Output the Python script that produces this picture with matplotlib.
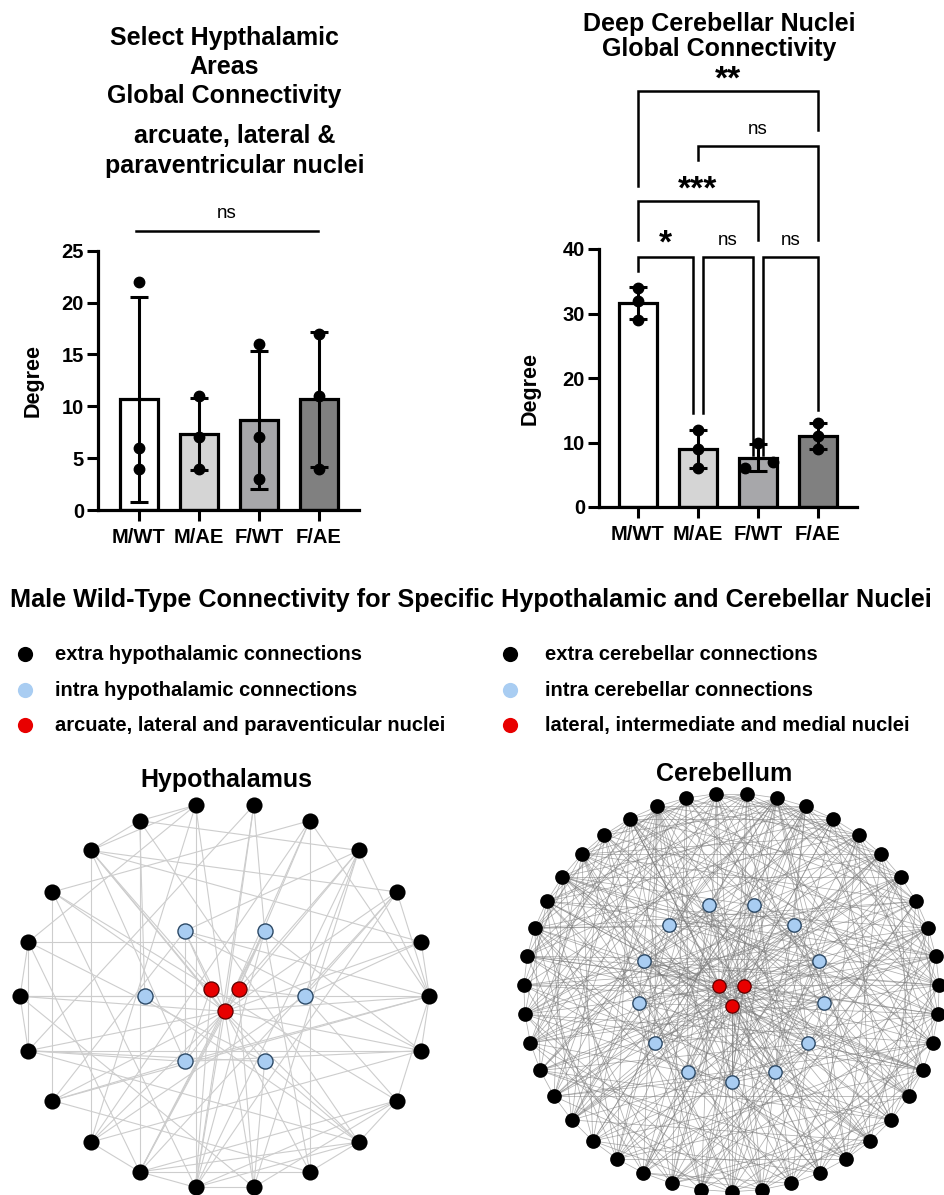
import numpy as np
import matplotlib
matplotlib.use('Agg')
import matplotlib.pyplot as plt
from matplotlib.collections import LineCollection
from matplotlib import transforms

plt.rcParams['font.family'] = ['Liberation Sans', 'DejaVu Sans']

# ---------------- data ----------------
groups = ["M/WT", "M/AE", "F/WT", "F/AE"]
hyp_points = [[22, 6, 4], [11, 7, 4], [16, 7, 3], [17, 11, 4]]
dcn_points = [[34, 32, 29], [12, 9, 6], [10, 6, 7], [13, 11, 9]]
dcn_jitter = [[0, 0, 0], [0, 0, 0], [0, -0.22, 0.25], [0, 0, 0]]
bar_colors = ['white', '#d5d5d5', '#a7a7aa', '#808080']
hyp_ticks = [0, 5, 10, 15, 20, 25]
dcn_ticks = [0, 10, 20, 30, 40]

# significance brackets: label, x_left, x_right, y_bar, y_leg_left, y_leg_right, label_y
dcn_sig = [
    ("*", 0, 0.92, 38.8, 36.6, 14.6, 41.7),
    ("ns", 1.08, 1.92, 38.8, 14.6, 8.0, 40.6),
    ("ns", 2.08, 3.0, 38.8, 8.0, 15.1, 40.6),
    ("***", 0, 2.0, 47.4, 41.4, 41.4, 50.1),
    ("ns", 1.0, 3.0, 55.9, 53.8, 41.4, 57.8),
    ("**", 0, 3.0, 64.5, 49.8, 58.4, 67.1),
]
hyp_sig = ("ns", -0.05, 2.98, 26.9, 28.2)

# network: hypothalamus (outer 0-21, intra 22-27, target nuclei 28-30)
HYP_N = (22, 6, 3)
HYP_EDGES = """
0: 1 2 3 4 13 20 21
1: 8 10
2: 8 15 16
3: 7 16 17
4: 9 14 18
5: 16 12
6: 7 8 10 14 16
7: 8 15 19
8: 14
9: 13 16 20
10: 11 12 15
11: 12 17
12: 19 21
13: 18
14: 15 21
15: 16 18 19 20
16: 17 19 20
17: 20
18: 19
19: 20
22: 1 2 3 11 14 20
23: 16 18 5 15 21
24: 3 0 21 26 13
25: 0 11 7 19
26: 12 13 21 0 8
27: 12 8 19 17 10
28: 3 4 15 17 22 23
29: 24 26 8 16
30: 0 1 2 3 4 5 6 8 9 11 12 13 14 15 16 17 18 19 21 23 24 26
"""

# network: cerebellum (outer 0-42, intra 43-55, target nuclei 56-58)
CB_N = (43, 13, 3)
CB_EDGES = """
0: 1 5 9 14 17 20 24 27 33 38 42
1: 2 6 9 12 19 24 27 30 36 40
2: 3 8 11 15 21 26 30 34 40
3: 4 10 13 17 22 25 29 35 38
4: 5 8 11 16 20 25 28 32 35 39
5: 6 13 17 20 24 28 31 37 41
6: 7 10 14 18 22 25 28 32 35 41
7: 8 12 15 20 23 26 29 36 39
8: 9 16 19 21 24 30 33 38 42
9: 10 13 17 22 25 27 33 36 39
10: 11 14 18 20 24 28 31 37 41
11: 12 16 19 23 25 28 31 34 40
12: 13 17 20 24 29 32 35 41
13: 14 18 21 26 29 32 35 38 41
14: 15 19 20 24 27 30 33 36 42
15: 16 20 22 25 28 33 36 39 42
16: 17 21 23 27 30 34 37 40
17: 18 22 24 27 29 33 36 41
18: 19 22 25 28 31 34 37 40
19: 20 24 26 29 32 35 38 42
20: 21 27 29 31 33 35 37 39 41
21: 22 25 28 31 34 37 40
22: 23 26 30 33 36 39 42
23: 24 27 31 34 37 41
24: 25 30 32 34 36 38 40
25: 26 29 33 36 39 42
26: 27 30 34 37 41
27: 28 31 35 38 42
28: 29 32 36 39
29: 30 33 37 40
30: 31 35 38 41
31: 32 39
32: 33 40
33: 34 41
34: 35 42
35: 36
36: 37
37: 38
38: 39
39: 40
40: 41
41: 42
43: 45 49 3 9 15 27 33 38 21
44: 47 52 5 12 18 24 30 36 41
45: 48 2 8 14 21 29 35 40 25
46: 50 54 1 7 13 20 26 32 39
47: 51 4 10 17 23 31 37 42 28
48: 53 0 6 11 19 25 34 30
49: 52 3 9 16 22 28 36 12
50: 54 2 12 18 20 27 33 41
51: 1 7 14 24 30 39 20
52: 5 11 17 20 26 35 42 8
53: 0 8 15 22 29 37 24
54: 4 10 16 24 31 38 19
55: 6 13 19 23 28 34 40 2
56: 1 3 5 7 10 12 14 16 18 20 21 23 26 28 31 33 35 37 39 42 43 44 45 46 47 48 50 52 54 55 57 58
57: 0 2 4 6 8 9 11 13 15 17 19 20 22 24 25 27 29 30 32 34 36 38 40 41 43 44 46 48 49 51 53 55 58
58: 0 1 3 5 8 10 12 13 16 19 22 25 28 31 34 37 40 42 43 44 45 47 49 50 51 52 53
"""

legend_left = ["extra hypothalamic connections", "intra hypothalamic connections",
               "arcuate, lateral and paraventicular nuclei"]
legend_right = ["extra cerebellar connections", "intra cerebellar connections",
                "lateral, intermediate and medial nuclei"]

# ---------------- figure ----------------
W, H = 944, 1195
fig = plt.figure(figsize=(W / 100, H / 100), dpi=100)


def px_axes(x0, y0, x1, y1, **kw):
    return fig.add_axes([x0 / W, 1 - y1 / H, (x1 - x0) / W, (y1 - y0) / H], **kw)


BLUE = '#a9cdf2'
RED = '#e80000'


def bar_panel(ax, points, jitter, ticks, ymax, xl):
    means = [np.mean(p) for p in points]
    sds = [np.std(p, ddof=1) for p in points]
    x = np.arange(len(points))
    ax.bar(x, means, width=0.63, color=bar_colors, edgecolor='black', linewidth=2.3, zorder=2)
    ax.errorbar(x, means, yerr=sds, fmt='none', ecolor='black', elinewidth=2.2,
                capsize=6.5, capthick=2.2, zorder=3)
    for i, (p, j) in enumerate(zip(points, jitter)):
        ax.plot(i + np.array(j), p, 'o', color='black', ms=7.5, zorder=4, clip_on=False)
    ax.set_xlim(*xl)
    ax.set_ylim(0, ymax)
    ax.set_xticks(x)
    ax.set_xticklabels(groups, fontweight='bold', fontsize=14.5)
    ax.set_yticks(ticks)
    ax.set_yticklabels([str(t) for t in ticks], fontweight='bold', fontsize=14.5)
    for s in ['top', 'right']:
        ax.spines[s].set_visible(False)
    for s in ['left', 'bottom']:
        ax.spines[s].set_linewidth(2.3)
    ax.tick_params(axis='both', direction='out', length=8, width=2.2)
    ax.tick_params(axis='y', pad=2)
    ax.tick_params(axis='x', pad=5)
    ax.set_ylabel("Degree", fontweight='bold', fontsize=15.5)
    ax.patch.set_alpha(0)


# left bar chart
axL = px_axes(98, 250.7, 359, 510)
bar_panel(axL, hyp_points, [[0, 0, 0]] * 4, hyp_ticks, 25, (-0.683, 3.667))
axL.yaxis.set_label_coords(-0.207, 0.5)
lab, xa, xb, yb, yl = hyp_sig
axL.plot([xa, xb], [yb, yb], color='black', lw=1.8, clip_on=False)
axL.text((xa + xb) / 2, yl, lab, ha='center', va='baseline', fontsize=13.5)

# right bar chart
axR = px_axes(599, 249, 857, 507)
bar_panel(axR, dcn_points, dcn_jitter, dcn_ticks, 40, (-0.65, 3.65))
axR.yaxis.set_label_coords(-0.227, 0.46)
star_tr = transforms.offset_copy(axR.transData, fig=fig, y=-10.5, units='points')
for lab, xa, xb, yb, y1, y2, ylab in dcn_sig:
    axR.plot([xa, xa, xb, xb], [y1, yb, yb, y2], color='black', lw=1.8,
             clip_on=False, solid_joinstyle='miter')
    if lab == 'ns':
        axR.text((xa + xb) / 2, ylab, lab, ha='center', va='baseline', fontsize=13.5)
    else:
        axR.text((xa + xb) / 2, ylab, lab, ha='center', va='baseline', fontsize=24,
                 fontweight='bold', transform=star_tr)


# ---------------- networks ----------------
def ring(n, r, start):
    ang = np.deg2rad(start + np.arange(n) * 360.0 / n)
    return np.c_[r * np.cos(ang), r * np.sin(ang)]


def parse_edges(s):
    pairs = []
    for line in s.strip().splitlines():
        a, rest = line.split(':')
        for b in rest.split():
            pairs.append((int(a), int(b)))
    return pairs


def network(cx, cy, rx, ry, counts, edges, r_in, r_red, start, sizes, ecol, elw, ealpha):
    ext = 1.12
    ax = px_axes(cx - ext * rx, cy - ext * ry, cx + ext * rx, cy + ext * ry)
    ax.set_xlim(-ext, ext)
    ax.set_ylim(-ext, ext)
    ax.axis('off')
    n_out, n_in, n_red = counts
    pos = np.vstack([ring(n_out, 1.0, start), ring(n_in, r_in, start), ring(n_red, r_red, 30)])
    segs = [[pos[a], pos[b]] for a, b in parse_edges(edges)]
    ax.add_collection(LineCollection(segs, colors=ecol, linewidths=elw, alpha=ealpha, zorder=1))
    o = pos[:n_out]
    i = pos[n_out:n_out + n_in]
    r = pos[n_out + n_in:]
    ax.scatter(o[:, 0], o[:, 1], s=sizes[0], c='black', zorder=3, clip_on=False, linewidths=0)
    ax.scatter(i[:, 0], i[:, 1], s=sizes[1], c=BLUE, edgecolors='#2c4966', linewidths=1.0,
               zorder=3, clip_on=False)
    ax.scatter(r[:, 0], r[:, 1], s=sizes[1], c=RED, edgecolors='#5a0000', linewidths=0.9,
               zorder=4, clip_on=False)
    return ax


network(224.7, 996.3, 204.7, 193.0, HYP_N, HYP_EDGES, 0.39, 0.078, 0,
        (135, 118), '#cdcdcd', 0.8, 1.0)
network(731.5, 992.5, 207.8, 199.3, CB_N, CB_EDGES, 0.45, 0.069, -90,
        (112, 92), '#7a7a7a', 0.55, 0.6)

# ---------------- overlay texts ----------------
ov = fig.add_axes([0, 0, 1, 1], zorder=5)
ov.set_xlim(0, W)
ov.set_ylim(H, 0)
ov.axis('off')

tkw = dict(ha='center', va='baseline', fontsize=18, fontweight='bold')
for txt, y in [("Select Hypthalamic", 45), ("Areas", 74), ("Global Connectivity", 103)]:
    ov.text(224, y, txt, **tkw)
for txt, y in [("arcuate, lateral &", 143), ("paraventricular nuclei", 173)]:
    ov.text(235, y, txt, **tkw)
for txt, y in [("Deep Cerebellar Nuclei", 31), ("Global Connectivity", 56)]:
    ov.text(719, y, txt, **tkw)

ov.text(471, 600, "Male Wild-Type Connectivity for Specific Hypothalamic and Cerebellar Nuclei",
        ha='center', va='center', fontsize=18.2, fontweight='bold')

dot_cols = ['black', BLUE, RED]
for k, y in enumerate([654, 690, 725]):
    ov.scatter([25], [y], s=120, c=dot_cols[k], linewidths=0)
    ov.text(55, y, legend_left[k], ha='left', va='center', fontsize=14.5, fontweight='bold')
    ov.scatter([510], [y], s=120, c=dot_cols[k], linewidths=0)
    ov.text(545, y, legend_right[k], ha='left', va='center', fontsize=14.5, fontweight='bold')

ov.text(226, 787, "Hypothalamus", ha='center', va='baseline', fontsize=18, fontweight='bold')
ov.text(724, 781, "Cerebellum", ha='center', va='baseline', fontsize=18, fontweight='bold')

fig.savefig('out.png', dpi=100)
